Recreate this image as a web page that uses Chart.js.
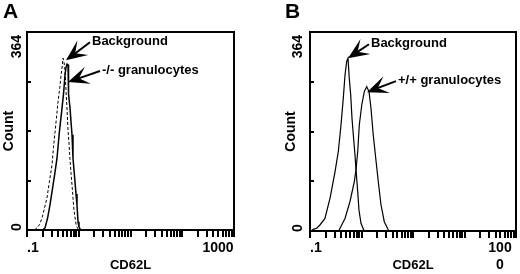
<!DOCTYPE html>
<html>
<head>
<meta charset="utf-8">
<script src="https://cdn.jsdelivr.net/npm/chart.js@4.4.1/dist/chart.umd.min.js"></script>
<style>
  html, body { margin: 0; padding: 0; background: #fff; }
  #wrap { position: relative; width: 520px; height: 274px; overflow: hidden; }
  canvas { position: absolute; top: 0; }
</style>
</head>
<body>
<div id="wrap">
  <canvas id="chartA" width="260" height="274" style="left:0"></canvas>
  <canvas id="chartB" width="260" height="274" style="left:260px"></canvas>
</div>
<script>
// ---- data (x = CD62L intensity, y = count) ----
const bgA_x = [0.14, 0.156, 0.175, 0.195, 0.215, 0.243, 0.27, 0.304, 0.325, 0.348, 0.37, 0.397, 0.43, 0.455, 0.475, 0.497, 0.52, 0.542, 0.567, 0.595, 0.62, 0.65, 0.678, 0.71, 0.741, 0.775, 0.809, 0.85, 0.885, 0.93, 0.968, 1.0];
const bgA_y = [0, 4, 10, 22, 38, 59, 88, 119, 152, 180, 205, 235, 262, 285, 298, 316, 308, 294, 257, 220, 184, 158, 129, 104, 83, 58, 37, 22, 11, 5, 2, 0];
const grA_x = [0.2, 0.223, 0.25, 0.278, 0.31, 0.345, 0.38, 0.42, 0.475, 0.51, 0.542, 0.57, 0.593, 0.62, 0.625, 0.645, 0.678, 0.71, 0.741, 0.774, 0.81, 0.847, 0.885, 0.925, 0.968, 1.01, 1.06, 1.1];
const grA_y = [0, 4, 22, 46, 75, 104, 132, 178, 224, 252, 285, 300, 305, 304, 272, 250, 224, 198, 175, 132, 110, 88, 66, 46, 15, 6, 2, 0];

const bgB_x = [0.105, 0.116, 0.135, 0.156, 0.195, 0.245, 0.306, 0.354, 0.4, 0.443, 0.478, 0.516, 0.547, 0.579, 0.617, 0.654, 0.693, 0.748, 0.782, 0.844, 0.894, 0.978, 1.08, 1.12];
const bgB_y = [0, 3, 5, 11, 23, 60, 108, 145, 194, 243, 285, 310, 316, 279, 249, 206, 176, 139, 112, 72, 38, 14, 4, 0];
const grB_x = [0.36, 0.383, 0.478, 0.598, 0.724, 0.782, 0.844, 0.906, 1.01, 1.133, 1.262, 1.4, 1.53, 1.69, 1.89, 2.12, 2.39, 2.77, 3.23, 3.4];
const grB_y = [0, 5, 23, 54, 90, 112, 145, 194, 230, 255, 264, 255, 224, 176, 133, 90, 48, 17, 4, 0];

// ---- axes ----
const xMin = 0.1, xMax = 1000;
const yMax = 364, yStep = 91;
const yTickLabels = ['0', '', '', '', '364'];
const xTickLabelsA = ['.1', ['1000']];
const xTickLabelsB = ['.1', ['100', '0']];

const FONT = '"Liberation Sans", Arial, Helvetica, sans-serif';

// minor log ticks 1..9 per decade
const logTicks = [];
for (let d = xMin; d < xMax; d *= 10) {
  for (let k = 1; k <= 9; k++) logTicks.push(+(d * k).toPrecision(3));
}
logTicks.push(xMax);

function drawArrow(ctx, tx, ty, ex, ey) {
  const dx = ex - tx, dy = ey - ty, len = Math.hypot(dx, dy);
  const ux = dx / len, uy = dy / len, nx = -uy, ny = ux;
  const L = 21, W = 9;
  ctx.beginPath();
  ctx.moveTo(tx, ty);
  ctx.lineTo(tx + ux * L + nx * W, ty + uy * L + ny * W);
  ctx.lineTo(tx + ux * L * 0.55, ty + uy * L * 0.55);
  ctx.lineTo(tx + ux * L - nx * W, ty + uy * L - ny * W);
  ctx.closePath();
  ctx.fill();
  ctx.lineWidth = 2;
  ctx.beginPath();
  ctx.moveTo(tx + ux * L * 0.5, ty + uy * L * 0.5);
  ctx.lineTo(ex, ey);
  ctx.stroke();
}

// frame, inner y ticks, rotated y labels, end labels on x, panel letter, arrows
const decor = {
  id: 'decor',
  afterDraw(chart, args, o) {
    const { ctx, chartArea: a, scales: { x, y } } = chart;
    ctx.save();
    ctx.strokeStyle = '#000';
    ctx.fillStyle = '#000';
    ctx.lineWidth = 2;
    ctx.strokeRect(a.left, a.top, a.right - a.left, a.bottom - a.top);

    y.ticks.forEach(t => {
      const py = Math.round(y.getPixelForValue(t.value));
      ctx.beginPath(); ctx.moveTo(a.left, py); ctx.lineTo(a.left + 4, py); ctx.stroke();
    });

    ctx.font = 'bold 14px ' + FONT;
    ctx.textBaseline = 'middle';
    y.ticks.forEach((t, i) => {
      const lab = yTickLabels[i];
      if (!lab) return;
      let py = y.getPixelForValue(t.value);
      ctx.save();
      if (t.value === y.max) { ctx.textAlign = 'right'; py += 3; }
      else { ctx.textAlign = 'left'; py += 1; }
      ctx.translate(o.yLabelX, py);
      ctx.rotate(-Math.PI / 2);
      ctx.fillText(lab, 0, 0);
      ctx.restore();
    });

    // x end labels
    const [first, last] = o.xLabels;
    ctx.textAlign = 'left';
    ctx.fillText(first, x.getPixelForValue(xMin), 248);
    ctx.textAlign = 'center';
    last.forEach((s, i) => ctx.fillText(s, x.getPixelForValue(xMax) - 16, 248 + i * 17));

    // panel letter
    ctx.font = 'bold 21px ' + FONT;
    ctx.textAlign = 'left';
    ctx.textBaseline = 'alphabetic';
    ctx.fillText(o.letter, o.letterX, 18);

    // arrows + labels
    ctx.font = 'bold 13px ' + FONT;
    ctx.textBaseline = 'middle';
    o.notes.forEach(n => {
      const tx = x.getPixelForValue(n.tip[0]), ty = y.getPixelForValue(n.tip[1]);
      const ex = tx + n.off[0], ey = ty + n.off[1];
      drawArrow(ctx, tx, ty, ex, ey);
      ctx.fillText(n.text, ex + 2, ey - 1);
    });
    ctx.restore();
  }
};

function makePanel(id, p) {
  const line = (xs, ys, dash, w) => ({
    data: xs.map((v, i) => ({ x: v, y: ys[i] })),
    borderColor: '#000', borderWidth: w, borderDash: dash,
    pointRadius: 0, tension: 0, fill: false
  });
  return new Chart(document.getElementById(id), {
    type: 'line',
    data: { datasets: p.datasets.map(d => line(...d)) },
    options: {
      responsive: false, animation: false, devicePixelRatio: 1,
      layout: { padding: p.padding },
      plugins: { legend: { display: false }, tooltip: { enabled: false }, decor: p.decor },
      scales: {
        x: {
          type: 'logarithmic', min: xMin, max: xMax,
          afterBuildTicks: s => { s.ticks = logTicks.map(v => ({ value: v })); },
          afterFit: s => { s.height = p.xHeight; },
          ticks: { display: false },
          grid: { drawOnChartArea: false, drawTicks: true, tickLength: 7, lineWidth: 2, color: '#000' },
          border: { display: false },
          title: { display: true, text: 'CD62L', color: '#000', font: { family: FONT, size: 13, weight: 'bold' }, padding: { top: 0, bottom: 1 } }
        },
        y: {
          min: 0, max: yMax,
          afterBuildTicks: s => { s.ticks = yTickLabels.map((_, i) => ({ value: i * yStep })); },
          afterFit: s => { s.width = p.yWidth; },
          ticks: { display: false },
          grid: { display: false },
          border: { display: false },
          title: { display: true, text: 'Count', color: '#000', font: { family: FONT, size: 14, weight: 'bold' }, padding: { top: 1, bottom: 0 } }
        }
      }
    },
    plugins: [decor]
  });
}

makePanel('chartA', {
  datasets: [[bgA_x, bgA_y, [3, 2], 1], [grA_x, grA_y, [], 1.5]],
  padding: { left: 0, top: 32, right: 26, bottom: 0 },
  yWidth: 27, xHeight: 44,
  decor: {
    letter: 'A', letterX: 3, yLabelX: 17, xLabels: xTickLabelsA,
    notes: [
      { text: 'Background', tip: [0.567, 312], off: [24, -18] },
      { text: '-/- granulocytes', tip: [0.62, 272], off: [32, -11] }
    ]
  }
});

makePanel('chartB', {
  datasets: [[bgB_x, bgB_y, [], 1.2], [grB_x, grB_y, [], 1.2]],
  padding: { left: 22, top: 32, right: 4, bottom: 0 },
  yWidth: 28, xHeight: 43,
  decor: {
    letter: 'B', letterX: 25, yLabelX: 38, xLabels: xTickLabelsB,
    notes: [
      { text: 'Background', tip: [0.547, 316], off: [21, -14] },
      { text: '+/+ granulocytes', tip: [1.279, 254], off: [29, -11] }
    ]
  }
});
</script>
</body>
</html>
